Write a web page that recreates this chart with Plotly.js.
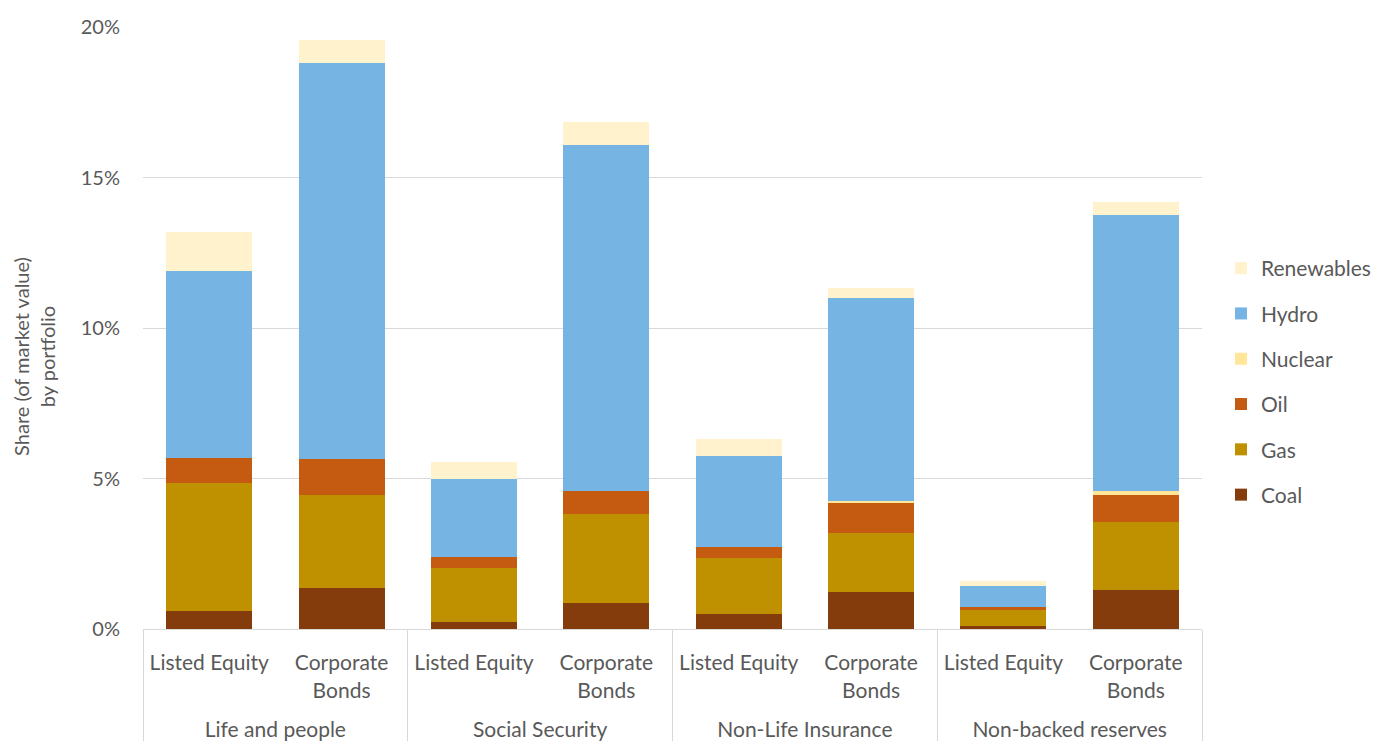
<!DOCTYPE html>
<html>
<head>
<meta charset="utf-8">
<script src="https://cdn.plot.ly/plotly-3.0.1.min.js"></script>
<style>html,body{margin:0;padding:0;background:#fff}#chart{width:1382px;height:748px}</style>
</head>
<body>
<div id="chart"></div>
<script>
const groups = ["Life and people","Life and people","Social Security","Social Security","Non-Life Insurance","Non-Life Insurance","Non-backed reserves","Non-backed reserves"];
const portfolios = ["Listed Equity","Corporate<br>Bonds","Listed Equity","Corporate<br>Bonds","Listed Equity","Corporate<br>Bonds","Listed Equity","Corporate<br>Bonds"];
// values in % of market value
const coal       = [0.61, 1.37, 0.24, 0.85, 0.50, 1.22, 0.10, 1.29];
const gas        = [4.24, 3.07, 1.78, 2.97, 1.86, 1.97, 0.54, 2.27];
const oil        = [0.84, 1.22, 0.36, 0.76, 0.38, 1.01, 0.10, 0.89];
const nuclear    = [0.00, 0.00, 0.00, 0.00, 0.00, 0.04, 0.00, 0.14];
const hydro      = [6.20, 13.14, 2.60, 11.50, 3.01, 6.76, 0.68, 9.15];
const renewables = [1.31, 0.77, 0.56, 0.77, 0.57, 0.34, 0.17, 0.46];

const seriesNames = ["Coal","Gas","Oil","Nuclear","Hydro","Renewables"];
const seriesVals = [coal, gas, oil, nuclear, hydro, renewables];
const seriesColors = ["#843C0C","#BF9000","#C55A11","#FFE699","#75B4E3","#FFF2CC"];
const yTitle = "Share (of market value)<br>by portfolio";

const groupLabels = groups.map(g => "<br>" + g);

const traces = seriesNames.map((n, i) => ({
  type: "bar",
  name: n,
  x: [groupLabels, portfolios],
  y: seriesVals[i],
  marker: {color: seriesColors[i], line: {width: 0}},
  legendgroup: n,
  legendrank: seriesNames.length - i,
  hoverinfo: "name+y"
}));

const fontFam = "Lato, 'Open Sans', sans-serif";
const layout = {
  width: 1382, height: 748,
  margin: {l: 143, r: 180, t: 27, b: 119, pad: 0},
  paper_bgcolor: "#ffffff", plot_bgcolor: "#ffffff",
  barmode: "stack",
  bargap: 0.35,
  font: {family: fontFam, color: "#595959", size: 21},
  showlegend: true,
  legend: {
    xref: "container", yref: "container",
    x: 0.8835, xanchor: "left", y: 0.49, yanchor: "middle",
    traceorder: "grouped",
    tracegroupgap: 15,
    font: {size: 21, color: "#595959"},
    itemwidth: 30
  },
  xaxis: {
    type: "multicategory",
    showline: true, linecolor: "#d9d9d9", linewidth: 1,
    showgrid: false,
    showdividers: true, dividercolor: "#d9d9d9", dividerwidth: 1,
    tickfont: {size: 21, color: "#595959"},
    ticklabelstandoff: 15,
    ticks: ""
  },
  yaxis: {
    range: [0, 20],
    dtick: 5, tick0: 0,
    ticksuffix: "%",
    showgrid: true, gridcolor: "#d9d9d9", gridwidth: 1,
    zeroline: false,
    showline: false,
    tickfont: {size: 20, color: "#595959"},
    ticklabelstandoff: 22
  },
  annotations: [{
    text: yTitle,
    xref: "paper", yref: "paper",
    x: 0, y: 0.452, xanchor: "center", yanchor: "middle",
    textangle: -90,
    showarrow: false,
    font: {size: 20, color: "#595959"}
  }]
};
// place title centre around x=34px in the page
layout.annotations[0].x = (34 - 143) / (1382 - 143 - 180);

Plotly.newPlot("chart", traces, layout, {displayModeBar: false, staticPlot: true});
</script>
</body>
</html>
